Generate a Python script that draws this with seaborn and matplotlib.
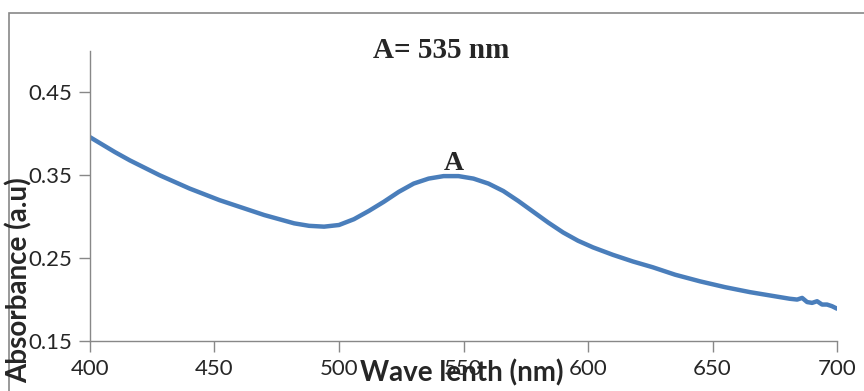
import pandas as pd
import seaborn as sns
import matplotlib.pyplot as plt
from matplotlib.patches import Rectangle

# absorbance spectrum
wavelength = [400, 405, 410, 416, 422, 428, 434, 440, 446, 452, 458, 464, 470, 476,
              482, 488, 494, 500, 506, 512, 518, 524, 530, 536, 542, 548, 554, 560,
              566, 572, 578, 584, 590, 596, 602, 610, 618, 626, 635, 645, 655, 665,
              673, 681, 684, 686, 688, 690, 692, 694, 696, 698, 700]
absorbance = [0.396, 0.387, 0.378, 0.368, 0.359, 0.350, 0.342, 0.334, 0.327, 0.320,
              0.314, 0.308, 0.302, 0.297, 0.292, 0.289, 0.288, 0.290, 0.297, 0.307,
              0.318, 0.330, 0.340, 0.346, 0.349, 0.349, 0.346, 0.340, 0.331, 0.319,
              0.306, 0.293, 0.281, 0.271, 0.263, 0.254, 0.246, 0.239, 0.230, 0.222,
              0.215, 0.209, 0.205, 0.201, 0.200, 0.202, 0.197, 0.196, 0.198, 0.194,
              0.194, 0.192, 0.189]
y_ticks = [0.15, 0.25, 0.35, 0.45]
x_ticks = [400, 450, 500, 550, 600, 650, 700]

df = pd.DataFrame({'wavelength': wavelength, 'absorbance': absorbance})

sns.set_style('white')
plt.rcParams['font.family'] = ['Lato', 'DejaVu Sans']

fig = plt.figure(figsize=(8.64, 3.91), dpi=100)
ax = fig.add_axes([90 / 864, 1 - 341 / 391, (837 - 90) / 864, (341 - 51) / 391])

sns.lineplot(data=df, x='wavelength', y='absorbance', ax=ax, color='#4a7ebb', linewidth=3.2)

ax.set_xlim(400, 700)
ax.set_ylim(0.15, 0.50)
ax.set_xticks(x_ticks)
ax.set_yticks(y_ticks)
ax.set_yticklabels([f'{v:.2f}' for v in y_ticks])
ax.tick_params(axis='both', direction='out', length=8, width=1, color='#888888',
               labelsize=16, pad=5, left=True, bottom=True)
for side in ['top', 'right']:
    ax.spines[side].set_visible(False)
for side in ['left', 'bottom']:
    ax.spines[side].set_color('#888888')
    ax.spines[side].set_linewidth(1)

ax.set_xlabel('')
ax.set_ylabel('')
fig.text(462 / 864, 1 - 373 / 391, 'Wave lenth (nm)', ha='center', va='center',
         fontsize=20, fontweight='bold')
fig.text(19 / 864, 1 - 280 / 391, 'Absorbance (a.u)', ha='center', va='center',
         rotation=90, fontsize=20, fontweight='bold')

ax.text(0.47, 1.0, 'A= 535 nm', transform=ax.transAxes, ha='center', va='center',
        fontsize=21, fontweight='bold', family='Liberation Serif')
ax.text(546, 0.364, 'A', ha='center', va='center', fontsize=20, fontweight='bold',
        family='Liberation Serif')

fig.patches.append(Rectangle((9 / 864, -0.1), 1.2, 1 - 13 / 391 + 0.1, transform=fig.transFigure,
                             fill=False, edgecolor='#888888', linewidth=1.2))

fig.savefig('out.png', dpi=100)
